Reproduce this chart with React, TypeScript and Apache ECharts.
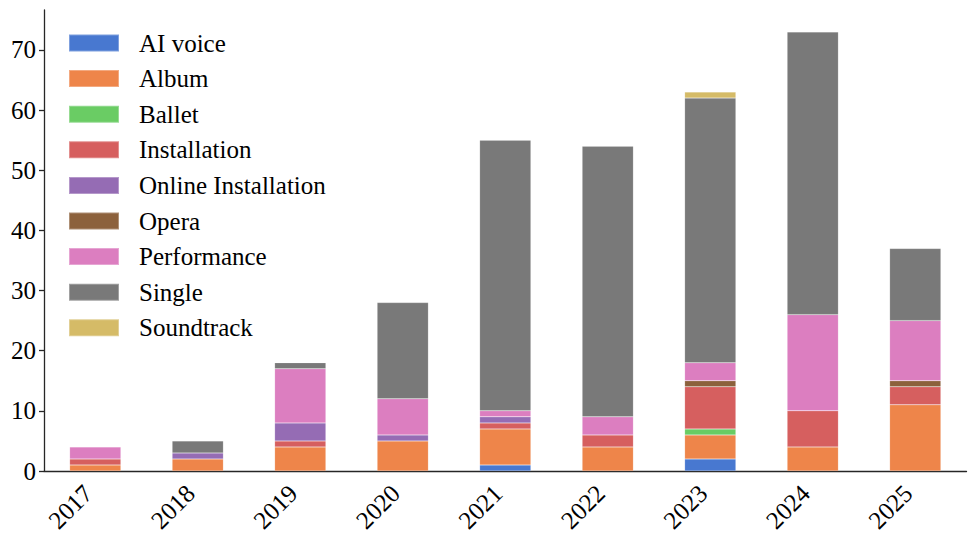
import React, { useEffect, useRef } from "react";
import * as echarts from "echarts";

const years = ["2017", "2018", "2019", "2020", "2021", "2022", "2023", "2024", "2025"];
const seriesNames = [
  "AI voice",
  "Album",
  "Ballet",
  "Installation",
  "Online Installation",
  "Opera",
  "Performance",
  "Single",
  "Soundtrack",
];
const colors = ["#4878d0", "#ee854a", "#6acc64", "#d65f5f", "#956cb4", "#8c613c", "#dc7ec0", "#797979", "#d5bb67"];

const aiVoice = [0, 0, 0, 0, 1, 0, 2, 0, 0];
const album = [1, 2, 4, 5, 6, 4, 4, 4, 11];
const ballet = [0, 0, 0, 0, 0, 0, 1, 0, 0];
const installation = [1, 0, 1, 0, 1, 2, 7, 6, 3];
const onlineInstallation = [0, 1, 3, 1, 1, 0, 0, 0, 0];
const opera = [0, 0, 0, 0, 0, 0, 1, 0, 1];
const performance = [2, 0, 9, 6, 1, 3, 3, 16, 10];
const single = [0, 2, 1, 16, 45, 45, 44, 47, 12];
const soundtrack = [0, 0, 0, 0, 0, 0, 1, 0, 0];

const yTicks = [0, 10, 20, 30, 40, 50, 60, 70];

const allValues = [aiVoice, album, ballet, installation, onlineInstallation, opera, performance, single, soundtrack];

export default function App() {
  const ref = useRef<HTMLDivElement>(null);
  useEffect(() => {
    if (!ref.current) return;
    const chart = echarts.init(ref.current, null, { renderer: "svg" });
    const font = "'Liberation Serif', 'Times New Roman', serif";
    const axisColor = "#262626";
    chart.setOption({
      animation: false,
      textStyle: { fontFamily: font },
      grid: { left: 44, right: 9.5, top: 10, bottom: 72, containLabel: false },
      legend: {
        orient: "vertical",
        left: 68,
        top: 30.5,
        padding: 0,
        itemWidth: 50,
        itemHeight: 17,
        itemGap: 10.6,
        icon: "rect",
        data: seriesNames,
        textStyle: {
          fontFamily: font,
          fontSize: 25,
          color: "#000",
          lineHeight: 25,
          padding: [0, 0, 0, 15],
        },
      },
      xAxis: {
        type: "category",
        data: years,
        boundaryGap: true,
        axisLine: { lineStyle: { color: axisColor, width: 1.3 } },
        axisTick: { alignWithLabel: true, length: 5, lineStyle: { color: axisColor, width: 1.3 } },
        axisLabel: {
          rotate: 45,
          fontFamily: font,
          fontSize: 25,
          color: "#000",
          margin: 11,
          padding: [0, 10, 0, 0],
          interval: 0,
        },
        splitLine: { show: false },
      },
      yAxis: {
        type: "value",
        min: 0,
        max: 76.65,
        interval: 10,
        axisLine: { show: true, lineStyle: { color: axisColor, width: 1.3 } },
        axisTick: { show: true, length: 5, customValues: yTicks, lineStyle: { color: axisColor, width: 1.3 } },
        axisLabel: {
          fontFamily: font,
          fontSize: 25,
          color: "#000",
          margin: 8,
          customValues: yTicks,
        },
        splitLine: { show: false },
      },
      series: seriesNames.map((name, i) => ({
        name,
        type: "bar",
        stack: "total",
        barWidth: "50%",
        itemStyle: {
          color: colors[i],
          borderColor: "rgba(255,255,255,0.3)",
          borderWidth: 0.5,
        },
        data: allValues[i].map((v) => (v === 0 ? null : v)),
      })),
    });
    return () => chart.dispose();
  }, []);
  return (
    <div
      ref={ref}
      style={{ position: "absolute", left: 0, top: 0, width: 976, height: 543, background: "#fff" }}
    />
  );
}
